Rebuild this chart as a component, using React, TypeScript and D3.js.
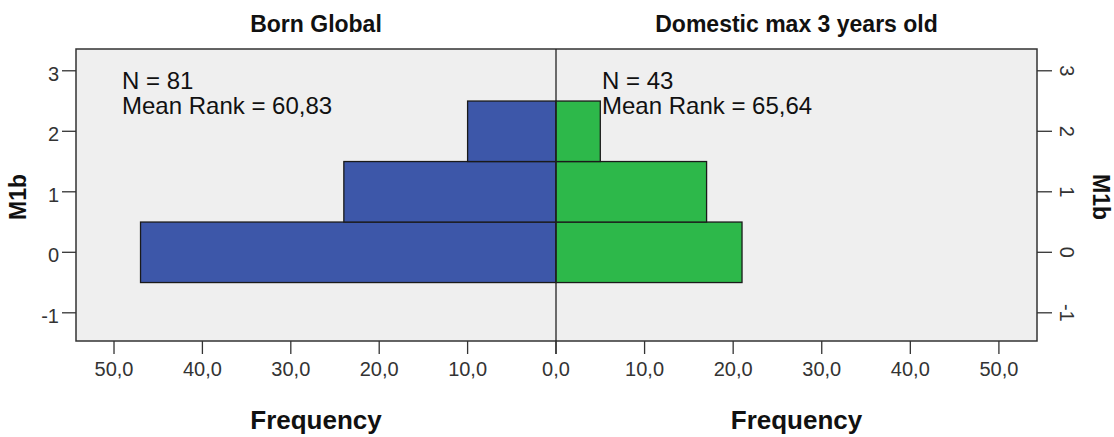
import React, { useEffect, useRef } from "react";
import * as d3 from "d3";

const categories = [0, 1, 2];
const bornGlobal = [47, 24, 10];
const domestic = [21, 17, 5];
const yTicks = [-1, 0, 1, 2, 3];
const xTicks = [0, 10, 20, 30, 40, 50];
const panelTitles = ["Born Global", "Domestic max 3 years old"];
const stats = [
  ["N = 81", "Mean Rank = 60,83"],
  ["N = 43", "Mean Rank = 65,64"],
];

const W = 1114, H = 437;
const left = 76, right = 1037, top = 49, bottom = 341, mid = 556;
const FONT = "'Liberation Sans', Arial, sans-serif";

export default function App() {
  const ref = useRef<SVGSVGElement>(null);
  useEffect(() => {
    const svg = d3.select(ref.current);
    svg.selectAll("*").remove();
    const y = d3.scaleLinear().domain([-1.466, 3.36]).range([bottom, top]);
    const xL = d3.scaleLinear().domain([0, 54.3]).range([mid, left]);
    const xR = d3.scaleLinear().domain([0, 54.3]).range([mid, right]);
    const bh = y(0) - y(1);

    svg.append("rect").attr("x", left).attr("y", top).attr("width", right - left).attr("height", bottom - top)
      .attr("fill", "#efefef").attr("stroke", "#333").attr("stroke-width", 1.5);

    // bars
    svg.append("g").selectAll("rect").data(categories).join("rect")
      .attr("x", (_, i) => xL(bornGlobal[i])).attr("y", (c) => y(c + 0.5))
      .attr("width", (_, i) => mid - xL(bornGlobal[i])).attr("height", bh)
      .attr("fill", "#3d57a9").attr("stroke", "#1a1a1a").attr("stroke-width", 1.3);
    svg.append("g").selectAll("rect").data(categories).join("rect")
      .attr("x", mid).attr("y", (c) => y(c + 0.5))
      .attr("width", (_, i) => xR(domestic[i]) - mid).attr("height", bh)
      .attr("fill", "#2db84a").attr("stroke", "#1a1a1a").attr("stroke-width", 1.3);

    // center line
    svg.append("line").attr("x1", mid).attr("x2", mid).attr("y1", top).attr("y2", bottom + 13)
      .attr("stroke", "#222").attr("stroke-width", 1.3);

    // left y ticks
    const gl = svg.append("g");
    yTicks.forEach((t) => {
      gl.append("line").attr("x1", left - 14).attr("x2", left).attr("y1", y(t)).attr("y2", y(t)).attr("stroke", "#333").attr("stroke-width", 1.3);
      gl.append("text").attr("x", left - 17).attr("y", y(t) + 10).attr("text-anchor", "end")
        .attr("font-family", FONT).attr("font-size", 20).attr("fill", "#333").text(t);
    });
    // right y ticks (rotated)
    const gr = svg.append("g");
    yTicks.forEach((t) => {
      gr.append("line").attr("x1", right).attr("x2", right + 15).attr("y1", y(t)).attr("y2", y(t)).attr("stroke", "#333").attr("stroke-width", 1.3);
      gr.append("text").attr("transform", `translate(${right + 23},${y(t)}) rotate(90)`)
        .attr("text-anchor", "middle")
        .attr("font-family", FONT).attr("font-size", 20).attr("fill", "#333").text(t);
    });

    // x ticks
    const fmt = (v: number) => v.toFixed(1).replace(".", ",");
    [xL, xR].forEach((xs, k) => {
      const g = svg.append("g");
      xTicks.forEach((t) => {
        if (t === 0 && k === 1) return;
        g.append("line").attr("x1", xs(t)).attr("x2", xs(t)).attr("y1", bottom).attr("y2", bottom + 13).attr("stroke", "#333").attr("stroke-width", 1.3);
        g.append("text").attr("x", xs(t)).attr("y", 376).attr("text-anchor", "middle")
          .attr("font-family", FONT).attr("font-size", 20).attr("fill", "#333").text(fmt(t));
      });
    });

    // titles
    const centers = [(left + mid) / 2, (mid + right) / 2];
    panelTitles.forEach((t, i) => {
      svg.append("text").attr("x", centers[i]).attr("y", 31.5).attr("text-anchor", "middle")
        .attr("font-family", FONT).attr("font-size", 23).attr("font-weight", "bold").attr("fill", "#111").text(t);
      svg.append("text").attr("x", centers[i]).attr("y", 429).attr("text-anchor", "middle")
        .attr("font-family", FONT).attr("font-size", 26).attr("font-weight", "bold").attr("fill", "#111").text("Frequency");
    });

    // stats
    const sx = [122, 602];
    stats.forEach((lines, i) => {
      lines.forEach((l, j) => {
        svg.append("text").attr("x", sx[i]).attr("y", 89 + j * 25)
          .attr("font-family", FONT).attr("font-size", 24).attr("fill", "#111").text(l);
      });
    });

    // y axis titles
    svg.append("text").attr("transform", `translate(26,197) rotate(-90)`).attr("text-anchor", "middle")
      .attr("font-family", FONT).attr("font-size", 23).attr("font-weight", "bold").attr("fill", "#111").text("M1b");
    svg.append("text").attr("transform", `translate(1093,197) rotate(90)`).attr("text-anchor", "middle")
      .attr("font-family", FONT).attr("font-size", 23).attr("font-weight", "bold").attr("fill", "#111").text("M1b");
  }, []);
  return (
    <svg ref={ref} width={W} height={H} style={{ position: "absolute", left: 0, top: 0, background: "#fff" }} />
  );
}
